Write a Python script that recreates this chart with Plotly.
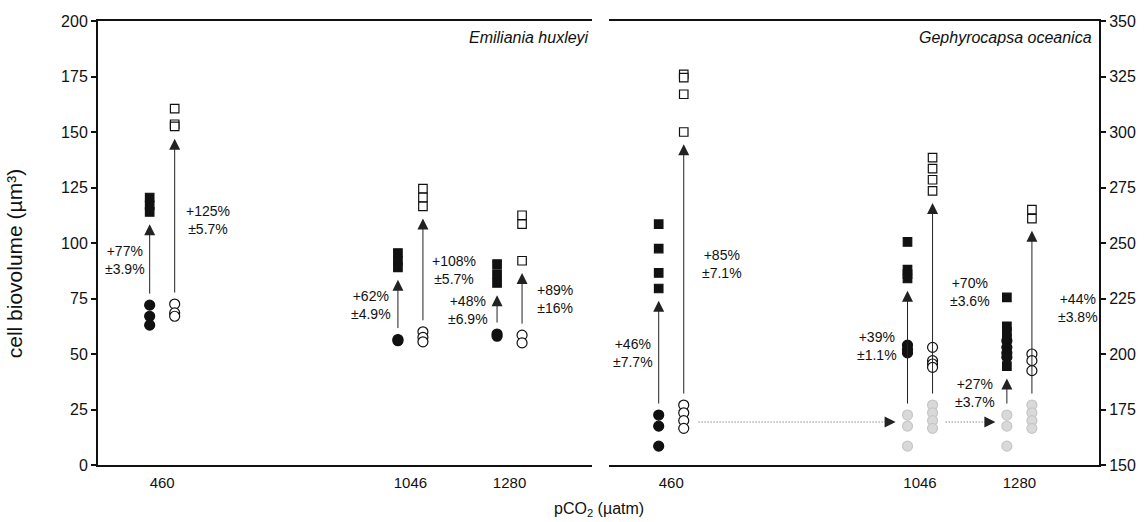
import plotly.graph_objects as go

# ---------------- data ----------------
pco2 = [460, 1046, 1280]
pco2_labels = ["460", "1046", "1280"]

# Emiliania huxleyi (left axis, µm³)
ehux_filled_circles = [[72, 67, 63], [56.5, 56], [59, 58]]
ehux_filled_squares = [[120.5, 117, 114], [95.5, 92, 89], [90.5, 86, 82]]
ehux_open_circles = [[72.5, 68.5, 67], [60, 57.5, 55.5], [58.5, 55]]
ehux_open_squares = [[160.5, 153.5, 152.5], [124.5, 120.5, 116.5], [112.5, 108.5, 92]]
ehux_filled_change = ["+77%<br>±3.9%", "+62%<br>±4.9%", "+48%<br>±6.9%"]
ehux_open_change = ["+125%<br>±5.7%", "+108%<br>±5.7%", "+89%<br>±16%"]

# Gephyrocapsa oceanica (right axis, µm³)
goce_filled_circles = [[172.5, 167.5, 158.5], [204, 202, 200.5], [206, 203, 200.5, 198.5]]
goce_filled_squares = [[258.5, 247.5, 236.5, 229.5], [250.5, 238, 236, 234],
                       [225.5, 212.5, 210, 207, 194.5]]
goce_open_circles = [[177, 173.5, 170, 166.5], [203, 197, 195.5, 194], [200, 197, 192.5]]
goce_open_squares = [[326, 324.5, 317, 300], [288.5, 283.5, 278.5, 273.5], [265, 261]]
goce_filled_change = ["+46%<br>±7.7%", "+39%<br>±1.1%", "+27%<br>±3.7%"]
goce_open_change = ["+85%<br>±7.1%", "+70%<br>±3.6%", "+44%<br>±3.8%"]

# ---------------- layout constants ----------------
W, H = 1148, 522
ML, MR, MT, MB = 98, 44, 21, 57
PW = W - ML - MR
OPEN_DX = 59            # horizontal offset (pCO2 units) of the open-symbol column
LEFT_RANGE = [338, 1503]
RIGHT_RANGE = [344, 1497]
FONT = "Liberation Sans, Arial, sans-serif"
INK = "#111111"
ARROW = "#222222"
GRAY_FILL = "#d9d9d9"
GRAY_LINE = "#c6c6c6"

# per-label shifts (px): filled labels left of arrow, open labels right of arrow
ehux_fdx = [-3, -5, -7]
ehux_odx = [9, 7, 13]
ehux_ody = [-4, 0, 0]
goce_fdx = [-4, -9, -10]
goce_odx = [16, 15, 24]
goce_ody = [6, 7, 5]
goce_fdy = [0, 2, -1]

fig = go.Figure()


def add_group(xs, groups, xref, yref, symbol, fill, line, size, name):
    xx, yy = [], []
    for x, g in zip(xs, groups):
        xx += [x] * len(g)
        yy += list(g)
    fig.add_trace(go.Scatter(
        x=xx, y=yy, mode="markers", name=name, showlegend=False,
        xaxis=xref, yaxis=yref,
        marker=dict(symbol=symbol, size=size, color=fill,
                    line=dict(color=line, width=1.2)),
        hoverinfo="x+y"))


open_x = [p + OPEN_DX for p in pco2]

# Left panel
add_group(pco2, ehux_filled_circles, "x", "y", "circle", INK, INK, 10, "E. hux filled")
add_group(pco2, ehux_filled_squares, "x", "y", "square", INK, INK, 8.5, "E. hux filled sq")
add_group(open_x, ehux_open_circles, "x", "y", "circle", "white", INK, 10, "E. hux open")
add_group(open_x, ehux_open_squares, "x", "y", "square", "white", INK, 8.5, "E. hux open sq")

# Right panel: gray copies of the 460 baseline at higher pCO2
add_group(pco2[1:], [goce_filled_circles[0]] * 2, "x2", "y2", "circle", GRAY_FILL, GRAY_LINE, 10, "baseline")
add_group(open_x[1:], [goce_open_circles[0]] * 2, "x2", "y2", "circle", GRAY_FILL, GRAY_LINE, 10, "baseline open")
add_group(pco2, goce_filled_circles, "x2", "y2", "circle", INK, INK, 10, "G. oce filled")
add_group(pco2, goce_filled_squares, "x2", "y2", "square", INK, INK, 8.5, "G. oce filled sq")
add_group(open_x, goce_open_circles, "x2", "y2", "circle", "white", INK, 10, "G. oce open")
add_group(open_x, goce_open_squares, "x2", "y2", "square", "white", INK, 8.5, "G. oce open sq")

annotations = []
START_GAP = 4.5   # y-units above the circles where the arrow starts
TIP_GAP = 5.5     # y-units below the squares where the arrow head ends


def add_arrow(x, base, top, xref, yref):
    y0 = max(base) + START_GAP
    y1 = min(top) - TIP_GAP
    annotations.append(dict(
        x=x, y=y1, ax=x, ay=y0, xref=xref, yref=yref, axref=xref, ayref=yref,
        text="", showarrow=True, arrowhead=2, arrowsize=2.2, arrowwidth=1,
        arrowcolor=ARROW))
    return (y0 + y1) / 2


def add_label(x, y, text, xref, yref, anchor, dx, dy=0):
    annotations.append(dict(
        x=x, y=y, xref=xref, yref=yref, text=text, showarrow=False,
        xanchor=anchor, yanchor="middle", align="center", xshift=dx, yshift=dy,
        font=dict(family=FONT, size=14, color=INK)))


for i, p in enumerate(pco2):
    m = add_arrow(p, ehux_filled_circles[i], ehux_filled_squares[i], "x", "y")
    add_label(p, m, ehux_filled_change[i], "x", "y", "right", ehux_fdx[i])
    m = add_arrow(open_x[i], ehux_open_circles[i], ehux_open_squares[i], "x", "y")
    add_label(open_x[i], m, ehux_open_change[i], "x", "y", "left", ehux_odx[i], ehux_ody[i])

for i, p in enumerate(pco2):
    base_f = goce_filled_circles[0]
    base_o = goce_open_circles[0]
    m = add_arrow(p, base_f, goce_filled_squares[i], "x2", "y2")
    add_label(p, m, goce_filled_change[i], "x2", "y2", "right", goce_fdx[i], goce_fdy[i])
    m = add_arrow(open_x[i], base_o, goce_open_squares[i], "x2", "y2")
    add_label(open_x[i], m, goce_open_change[i], "x2", "y2", "left", goce_odx[i], goce_ody[i])

# dotted arrows carrying the 460 baseline to higher pCO2
base_all = goce_filled_circles[0] + goce_open_circles[0]
base_mean = sum(base_all) / len(base_all)
dotted_starts = [open_x[0] + 35, open_x[1] + 31]
dotted_tips = [pco2[1] - 28, pco2[2] - 27]
for xs, xt in zip(dotted_starts, dotted_tips):
    fig.add_trace(go.Scatter(
        x=[xs, xt - 10], y=[base_mean, base_mean], mode="lines", showlegend=False,
        xaxis="x2", yaxis="y2", hoverinfo="skip",
        line=dict(color="#555555", width=1, dash="1px,2px")))
    annotations.append(dict(
        x=xt, y=base_mean, ax=xt - 12, ay=base_mean, xref="x2", yref="y2",
        axref="x2", ayref="y2", text="", showarrow=True, arrowhead=2,
        arrowsize=2.2, arrowwidth=1, arrowcolor=ARROW))

# panel titles
annotations.append(dict(x=0.999, y=0.962, xref="x domain", yref="y domain",
                        text="<i>Emiliania huxleyi</i>", showarrow=False,
                        xanchor="right", yanchor="middle",
                        font=dict(family=FONT, size=16, color=INK)))
annotations.append(dict(x=0.99, y=0.962, xref="x2 domain", yref="y2 domain",
                        text="<i>Gephyrocapsa oceanica</i>", showarrow=False,
                        xanchor="right", yanchor="middle",
                        font=dict(family=FONT, size=16, color=INK)))
# shared x title
annotations.append(dict(x=0.5, y=-0.101, xref="paper", yref="paper",
                        text="pCO<sub>2</sub> (µatm)", showarrow=False,
                        xanchor="center", yanchor="middle",
                        font=dict(family=FONT, size=16, color=INK)))
# y title (placed slightly below the axis centre, as in the original)
annotations.append(dict(x=-0.0835, y=0.453, xref="paper", yref="paper",
                        text="cell biovolume (µm³)", showarrow=False, textangle=-90,
                        xanchor="center", yanchor="middle",
                        font=dict(family=FONT, size=21, color=INK)))

left_dom = [0, (594 - ML) / PW]
right_dom = [(612 - ML) / PW, 1]
divider_pos = (603 - ML) / PW

label_vals = [p + OPEN_DX / 2 for p in pco2]
tick_vals = sorted(pco2 + open_x)

common_x = dict(showgrid=False, zeroline=False, fixedrange=True)
main_x = dict(common_x, tickmode="array", tickvals=label_vals, ticktext=pco2_labels,
              ticks="outside", ticklen=3, tickcolor="rgba(0,0,0,0)",
              showline=True, linecolor=INK, linewidth=2, mirror=True,
              tickfont=dict(family=FONT, size=15, color=INK))
tick_x = dict(common_x, tickmode="array", tickvals=tick_vals, showticklabels=False,
              showline=False, ticklen=4, tickwidth=1.5, tickcolor=INK)

yticks_left = list(range(0, 201, 25))
yticks_right = list(range(150, 351, 25))

fig.update_layout(
    width=W, height=H, autosize=False,
    margin=dict(l=ML, r=MR, t=MT, b=MB, pad=0),
    paper_bgcolor="white", plot_bgcolor="white",
    font=dict(family=FONT, color=INK),
    showlegend=False,
    xaxis=dict(main_x, domain=left_dom, range=LEFT_RANGE, anchor="y"),
    xaxis2=dict(main_x, domain=right_dom, range=RIGHT_RANGE, anchor="y2"),
    xaxis3=dict(tick_x, overlaying="x", anchor="y", range=LEFT_RANGE, ticks="outside"),
    xaxis4=dict(tick_x, overlaying="x2", anchor="y2", range=RIGHT_RANGE, ticks="outside"),
    xaxis5=dict(tick_x, overlaying="x", anchor="y", range=LEFT_RANGE, ticks="inside"),
    xaxis6=dict(tick_x, overlaying="x2", anchor="y2", range=RIGHT_RANGE, ticks="inside"),
    yaxis=dict(domain=[0, 1], range=[0, 200], anchor="x", side="left",
               tickmode="array", tickvals=yticks_left, ticks="outside", ticklen=5,
               tickwidth=1.5, tickcolor=INK, showline=True, linecolor=INK, linewidth=2,
               showgrid=False, zeroline=False, fixedrange=True,
               tickfont=dict(family=FONT, size=16, color=INK)),
    yaxis2=dict(domain=[0, 1], range=[150, 350], anchor="x2", side="right",
                tickmode="array", tickvals=yticks_right, ticks="outside", ticklen=5,
                tickwidth=1.5, tickcolor=INK, showline=True, linecolor=INK, linewidth=2,
                showgrid=False, zeroline=False, fixedrange=True,
                tickfont=dict(family=FONT, size=16, color=INK)),
    yaxis3=dict(overlaying="y", anchor="free", position=divider_pos, side="left",
                range=[0, 200], tickmode="array", tickvals=yticks_left,
                ticks="outside", ticklen=7, tickwidth=1.5, tickcolor=INK,
                showline=True, linecolor=INK, linewidth=2, showticklabels=False,
                showgrid=False, zeroline=False, fixedrange=True),
    yaxis4=dict(overlaying="y", anchor="free", position=divider_pos, side="right",
                range=[0, 200], tickmode="array", tickvals=yticks_left,
                ticks="outside", ticklen=7, tickwidth=1.5, tickcolor=INK,
                showline=False, showticklabels=False,
                showgrid=False, zeroline=False, fixedrange=True),
    annotations=annotations,
)

fig.write_html("out.html", config={"displayModeBar": False},
               post_script="document.body.style.margin='0px';")
